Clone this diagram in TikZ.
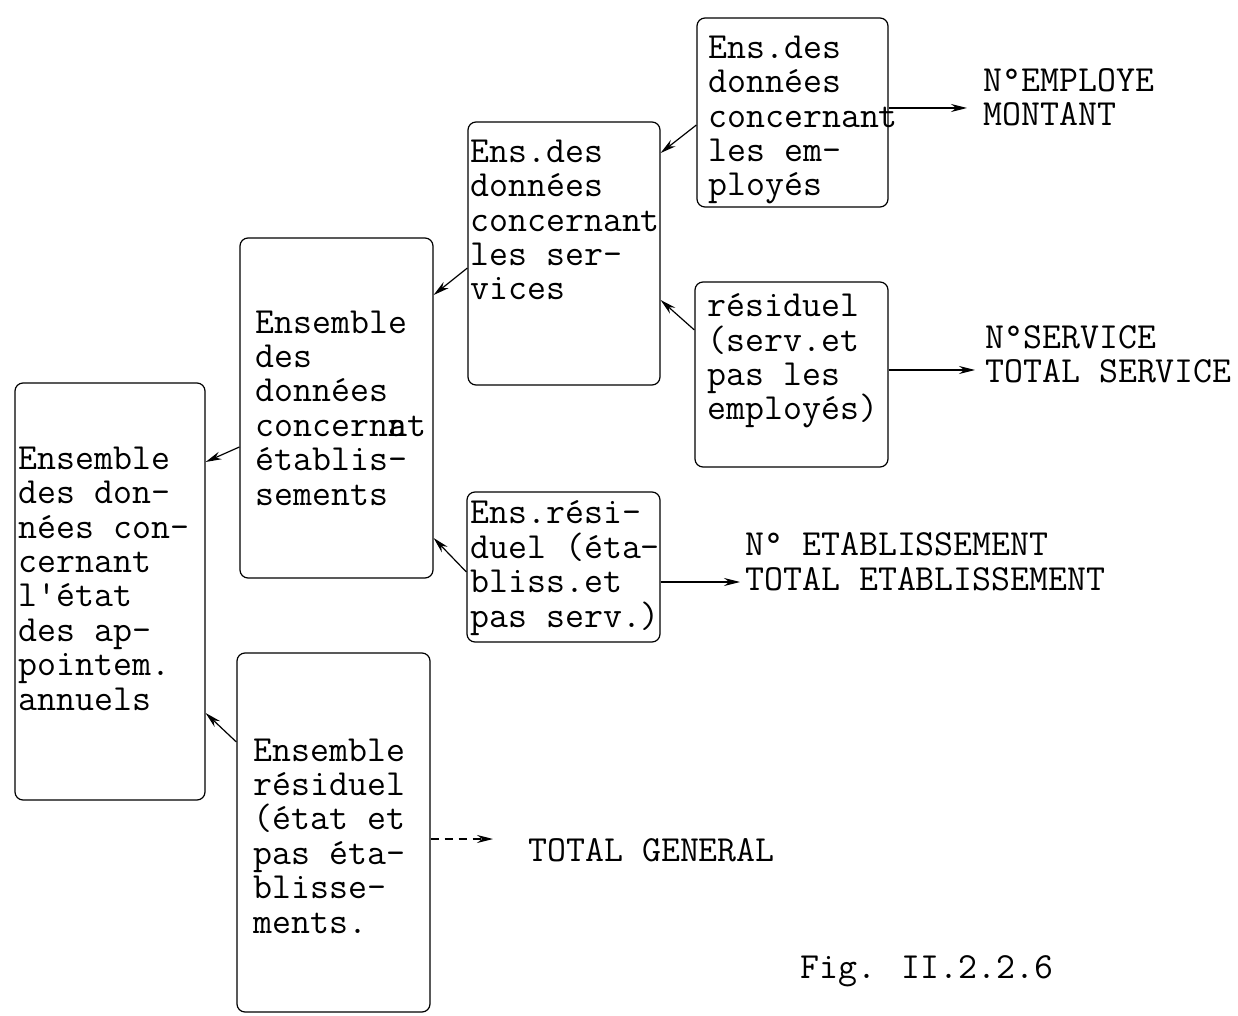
\documentclass[tikz,border=0pt]{standalone}
\usetikzlibrary{arrows.meta}

\begin{document}
\begin{tikzpicture}[x=0.5pt,y=-0.5pt,
 tw/.style={font=\fontsize{18.4}{17.2}\selectfont\ttfamily,inner sep=0pt,align=left,anchor=base west},
 box/.style={draw,line width=.6pt,rounded corners=4pt,inner sep=0pt},
 arr/.style={line width=.6pt,-{Stealth[length=8pt,width=4pt]}}]
 \useasboundingbox(0,0)rectangle(1238,1016);
 % the seven sets, sized in pt (1 px = .5pt)
 \node[box,minimum width=95pt,minimum height=208.5pt](etat)at(110,591.5){};
 \node[box,minimum width=96.5pt,minimum height=170pt](etab)at(336.5,408){};
 \node[box,minimum width=96pt,minimum height=131.5pt](serv)at(564,253.5){};
 \node[box,minimum width=95.5pt,minimum height=94.5pt](empl)at(792.5,112.5){};
 \node[box,minimum width=96.5pt,minimum height=92.5pt](resserv)at(791.5,374.5){};
 \node[box,minimum width=96.5pt,minimum height=75pt](resetab)at(563.5,567){};
 \node[box,minimum width=96.5pt,minimum height=179.5pt](resetat)at(333.5,832.5){};
 % texts sit on the baseline of their last line
 \node[tw](tetat)at(18,710){Ensemble\\des don-\\nées con-\\cernant\\l'état\\des ap-\\pointem.\\annuels};
 \node[tw](tetab)at(255,505){Ensemble\\des\\données\\concern\rlap{a}nt\\établis-\\sements};
 \node[tw](tserv)at(470,300){Ens.des\\données\\concernant\\les ser-\\vices};
 \node[tw](templ)at(708,196){Ens.des\\données\\concernant\\les em-\\ployés};
 \node[tw](tresserv)at(707,420){résiduel\\(serv.et\\pas les\\employés)};
 \node[tw](tresetab)at(470,627){Ens.rési-\\duel (éta-\\bliss.et\\pas serv.)};
 \node[tw](tresetat)at(253,933){Ensemble\\résiduel\\(état et\\pas éta-\\blisse-\\ments.};
 % printed results
 \node[tw](outempl)at(983,126){N°EMPLOYE\\MONTANT};
 \node[tw](outserv)at(985,383){N°SERVICE\\TOTAL SERVICE};
 \node[tw](outetab)at(745,590){N° ETABLISSEMENT\\TOTAL ETABLISSEMENT};
 \node[tw](outgen)at(528,861){TOTAL GENERAL};
 \node[tw](fig)at(800,978){Fig. II.2.2.6};
 \draw[arr]([yshift=-6.25pt]empl.west)--([yshift=50.25pt]serv.east);
 \draw[arr]([yshift=22.25pt]resserv.west)--([yshift=-23.25pt]serv.east);
 \draw[arr]([yshift=-7.25pt]serv.west)--([yshift=56.5pt]etab.east);
 \draw[arr]([yshift=-2.5pt]resetab.west)--([yshift=-65pt]etab.east);
 \draw[arr]([yshift=-19.5pt]etab.west)--([yshift=64.75pt]etat.east);
 \draw[arr]([yshift=45.25pt]resetat.west)--([yshift=-60.75pt]etat.east);
 \draw[arr,shorten >=8pt]([yshift=2.25pt]empl.east)coordinate(a1)--(a1-|outempl.west);
 \draw[arr,shorten >=5pt]([yshift=2.25pt]resserv.east)coordinate(a2)--(a2-|outserv.west);
 \draw[arr,shorten >=2.5pt]([yshift=-7.5pt]resetab.east)coordinate(a3)--(a3-|outetab.west);
 \draw[arr,dash pattern=on 4pt off 3pt,shorten >=17.5pt]([yshift=-3.25pt]resetat.east)coordinate(a4)--(a4-|outgen.west);
\end{tikzpicture}
\end{document}
